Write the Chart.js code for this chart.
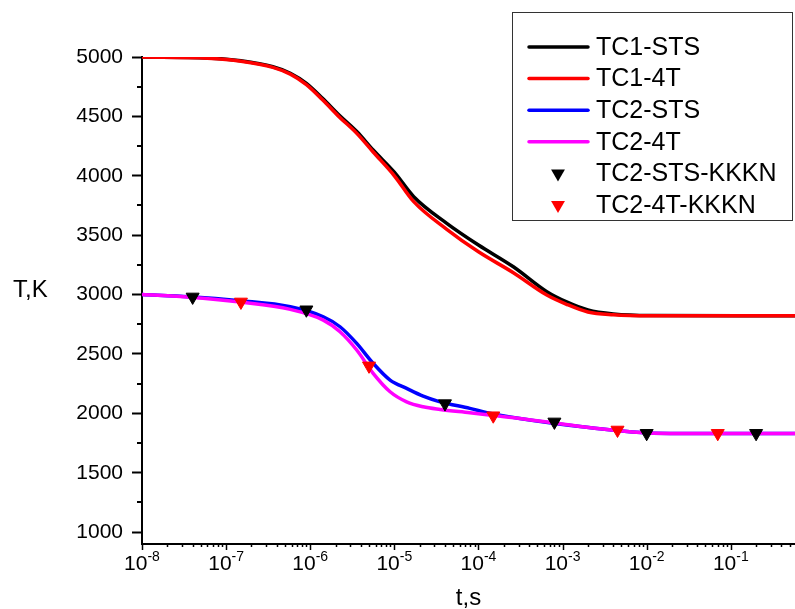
<!DOCTYPE html>
<html lang="en">
<head>
  <meta charset="UTF-8">
  <title>T(t)</title>
  <script src="https://cdn.jsdelivr.net/npm/chart.js"></script>
  <style>
    html, body { margin: 0; padding: 0; background: #fff; }
    #wrap { width: 795px; height: 609px; }
  </style>
</head>
<body>
  <div id="wrap"><canvas id="chart" width="795" height="609"></canvas></div>

  <script>
    // upper pair of curves (TC1), t in seconds, T in K
    var tUpper = [1e-8, 6e-8, 1.5e-7, 3.6e-7, 5.8e-7, 9e-7, 1.4e-6, 2.2e-6, 3.6e-6, 5.6e-6, 1e-5,
                  1.7e-5, 4.2e-5, 1e-4, 2.6e-4, 6.5e-4, 1.1e-3, 2e-3, 4e-3, 1.1e-2, 0.58];
    var tc1Sts = [5000, 4992, 4968, 4918, 4863, 4778, 4652, 4512, 4371, 4217, 4030,
                  3824, 3600, 3417, 3234, 3024, 2940, 2870, 2836, 2823, 2822];
    var tc14t  = [5000, 4990, 4965, 4913, 4856, 4768, 4640, 4498, 4355, 4200, 4000,
                  3782, 3549, 3360, 3184, 2996, 2920, 2853, 2830, 2822, 2822];

    // lower pair (TC2)
    var tLower = [1e-8, 3.7e-8, 1.46e-7, 5.8e-7, 1.43e-6, 2.26e-6, 3.57e-6, 5.6e-6, 8.9e-6, 1.4e-5,
                  2.2e-5, 3.5e-5, 7.9e-5, 1.26e-4, 3.1e-4, 1.94e-3, 7.6e-3, 1.9e-2, 0.58];
    var tc2Sts = [3000, 2982, 2948, 2897, 2813, 2729, 2589, 2421, 2280, 2210,
                  2145, 2097, 2042, 2006, 1957, 1882, 1840, 1830, 1830];
    var tc24t  = [3000, 2978, 2937, 2875, 2785, 2687, 2533, 2337, 2182, 2097,
                  2055, 2033, 2005, 1988, 1957, 1882, 1840, 1830, 1830];

    // KKKN markers
    var tStsKkkn = [4e-8, 9e-7, 4e-5, 8e-4, 1e-2, 0.2];
    var stsKkkn  = [2980, 2872, 2082, 1928, 1832, 1832];
    var t4tKkkn  = [1.5e-7, 5e-6, 1.5e-4, 4.5e-3, 0.07];
    var kkkn4t   = [2938, 2400, 1980, 1860, 1832];

    // axes
    var yMajor = [1000, 1500, 2000, 2500, 3000, 3500, 4000, 4500, 5000];
    var yMinor = [1250, 1750, 2250, 2750, 3250, 3750, 4250, 4750];
    var xDecades = [1e-8, 1e-7, 1e-6, 1e-5, 1e-4, 1e-3, 1e-2, 1e-1];
    var xExponents = ['-8', '-7', '-6', '-5', '-4', '-3', '-2', '-1'];

    var FONT = '"Liberation Sans", Arial, sans-serif';

    function pts(xs, ys) {
      return xs.map(function (v, i) { return { x: v, y: ys[i] }; });
    }

    function tri(ctx, x, y, r) {
      ctx.beginPath();
      ctx.moveTo(x, y + r);
      ctx.lineTo(x - 0.866 * r, y - 0.5 * r);
      ctx.lineTo(x + 0.866 * r, y - 0.5 * r);
      ctx.closePath();
      ctx.fill();
    }

    // ticks, x labels with superscripts, axis titles and the boxed legend
    var decor = {
      id: 'decor',
      afterDraw: function (chart) {
        var ctx = chart.ctx, a = chart.chartArea;
        var xs = chart.scales.x, ys = chart.scales.y;
        ctx.save();
        ctx.strokeStyle = '#000';
        ctx.lineWidth = 2;

        yMinor.forEach(function (v) {
          var py = Math.round(ys.getPixelForValue(v));
          ctx.beginPath(); ctx.moveTo(a.left - 5, py); ctx.lineTo(a.left, py); ctx.stroke();
        });

        ctx.lineWidth = 1.5;
        xDecades.forEach(function (d) {
          for (var k = 1; k <= 9; k++) {
            var v = d * k;
            if (v > xs.max) break;
            var px = Math.round(xs.getPixelForValue(v)) + 0.5;
            ctx.beginPath();
            ctx.moveTo(px, a.bottom);
            ctx.lineTo(px, a.bottom + (k === 1 ? 6 : 3));
            ctx.stroke();
          }
        });

        ctx.fillStyle = '#000';
        ctx.textBaseline = 'alphabetic';
        ctx.textAlign = 'left';
        xDecades.forEach(function (d, i) {
          var px = xs.getPixelForValue(d);
          ctx.font = '21px ' + FONT;
          var w1 = ctx.measureText('10').width;
          ctx.font = '14px ' + FONT;
          var w2 = ctx.measureText(xExponents[i]).width;
          var x0 = px - (w1 + w2) / 2;
          ctx.font = '21px ' + FONT;
          ctx.fillText('10', x0, 570);
          ctx.font = '14px ' + FONT;
          ctx.fillText(xExponents[i], x0 + w1, 561);
        });

        ctx.font = '24px ' + FONT;
        ctx.fillText('T,K', 13, 297);
        ctx.textAlign = 'center';
        ctx.fillText('t,s', (a.left + a.right) / 2, 605);

        // legend
        ctx.fillStyle = '#fff';
        ctx.fillRect(512, 12, 280, 208);
        ctx.strokeStyle = '#333';
        ctx.lineWidth = 1;
        ctx.strokeRect(512.5, 12.5, 280, 208);
        ctx.font = '25px ' + FONT;
        ctx.textAlign = 'left';
        ctx.textBaseline = 'middle';
        chart.data.datasets.forEach(function (ds, i) {
          var ry = 47 + i * 31.6;
          if (ds.showLine === false) {
            ctx.fillStyle = ds.backgroundColor;
            tri(ctx, 558, ry, 8);
          } else {
            ctx.strokeStyle = ds.borderColor;
            ctx.lineWidth = 3.5;
            ctx.lineCap = 'round';
            ctx.beginPath(); ctx.moveTo(529, ry); ctx.lineTo(588, ry); ctx.stroke();
          }
          ctx.fillStyle = '#000';
          ctx.fillText(ds.label, 596, ry + 1);
        });
        ctx.restore();
      }
    };

    function lineSet(label, color, xs, ys, order) {
      return {
        label: label, data: pts(xs, ys), borderColor: color, backgroundColor: color,
        borderWidth: 3.5, pointRadius: 0, cubicInterpolationMode: 'monotone', order: order
      };
    }

    function markSet(label, color, xs, ys) {
      return {
        label: label, data: pts(xs, ys), showLine: false, backgroundColor: color,
        borderColor: color, borderWidth: 1, pointStyle: 'triangle', rotation: 180,
        pointRadius: 7.5, order: 0
      };
    }

    var chart = new Chart(document.getElementById('chart').getContext('2d'), {
      type: 'line',
      data: {
        datasets: [
          lineSet('TC1-STS', '#000000', tUpper, tc1Sts, 2),
          lineSet('TC1-4T', '#ff0000', tUpper, tc14t, 1),
          lineSet('TC2-STS', '#0000ff', tLower, tc2Sts, 2),
          lineSet('TC2-4T', '#ff00ff', tLower, tc24t, 1),
          markSet('TC2-STS-KKKN', '#000000', tStsKkkn, stsKkkn),
          markSet('TC2-4T-KKKN', '#ff0000', t4tKkkn, kkkn4t)
        ]
      },
      options: {
        responsive: false,
        animation: false,
        devicePixelRatio: 1,
        layout: { autoPadding: false, padding: { top: 57, right: 0, left: 0, bottom: 0 } },
        plugins: { legend: { display: false }, tooltip: { enabled: false } },
        scales: {
          x: {
            type: 'logarithmic',
            min: 1e-8,
            max: 0.58,
            afterBuildTicks: function (s) { s.ticks = xDecades.map(function (v) { return { value: v }; }); },
            afterFit: function (s) { s.height = 65; },
            ticks: { display: false },
            grid: { display: false },
            border: { display: true, color: '#000', width: 2 }
          },
          y: {
            type: 'linear',
            min: 900,
            max: 5000,
            afterBuildTicks: function (s) { s.ticks = yMajor.map(function (v) { return { value: v }; }); },
            afterFit: function (s) { s.width = 142; },
            ticks: {
              color: '#000',
              padding: 9,
              font: { family: FONT, size: 21 },
              callback: function (v) { return String(v); }
            },
            grid: { drawOnChartArea: false, tickLength: 10, tickWidth: 2, tickColor: '#000' },
            border: { display: true, color: '#000', width: 2 }
          }
        }
      },
      plugins: [decor]
    });
  </script>
</body>
</html>
